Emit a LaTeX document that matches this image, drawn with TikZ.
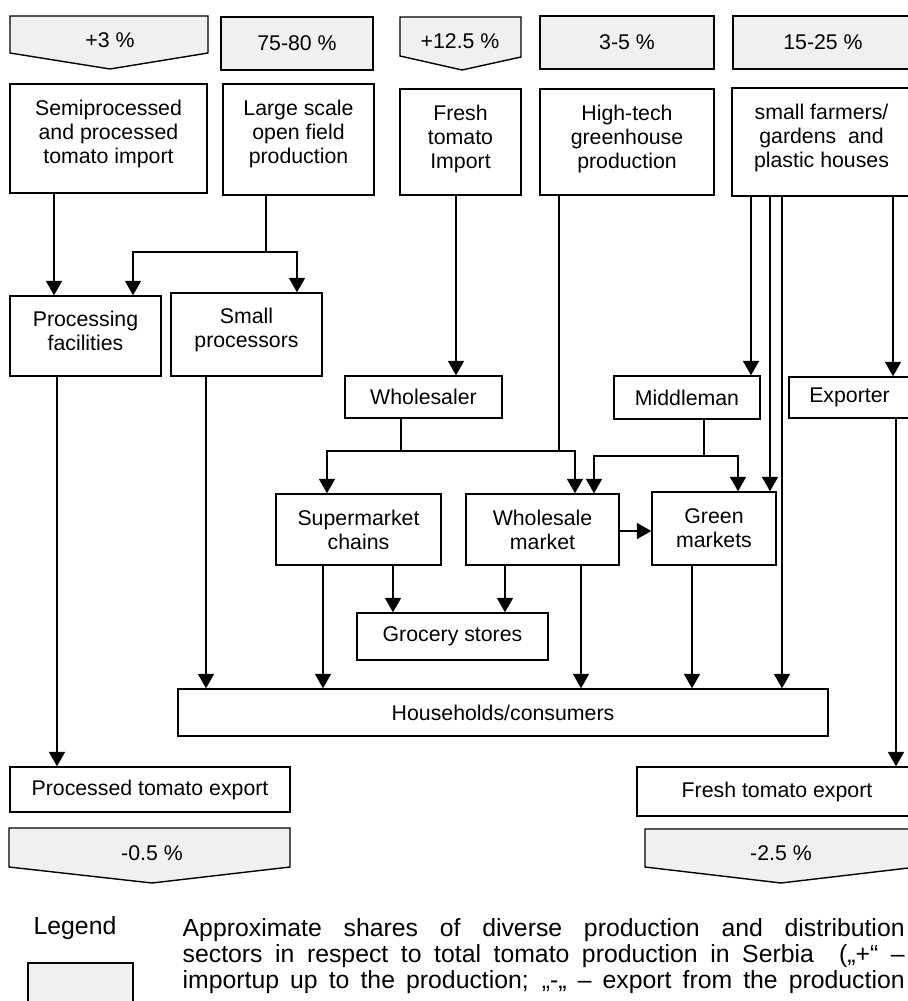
\documentclass[tikz,border=0pt]{standalone}
\usepackage{fontspec}
\setmainfont{Liberation Sans}
\usetikzlibrary{arrows.meta,positioning}

\definecolor{sharegray}{gray}{0.94}
\newcommand{\boxfont}{\fontsize{10.65}{12}\selectfont}
\newcommand{\legfont}{\fontsize{12.4}{13}\selectfont}

\begin{document}
\begin{tikzpicture}[x=0.5pt, y=-0.5pt, line width=0.7pt,
    >={Triangle[length=7.2pt,width=8pt]},
    box/.style={draw, fill=white, inner sep=0pt, align=center, font=\boxfont},
    txt/.style={inner sep=0pt, align=center, font=\boxfont},
    share/.style={draw, fill=sharegray},
    flow/.style={->}]

    \useasboundingbox (0,0) rectangle (907,1001);

    % Shares on top
    \draw[share] (10,16) -- (208,16) -- (208,53) -- (110,69) -- (10,53) -- cycle;
    \node[txt] (impproc) at (110,40) {+3 \%};
    \node[box, fill=sharegray, minimum width=76pt, minimum height=26.5pt] (shlarge) at (297,43.5) {75-80 \%};
    \draw[share] (400,17) -- (521,17) -- (521,57) -- (462,70) -- (400,56) -- cycle;
    \node[txt] (impfresh) at (460,41) {+12.5 \%};
    \node[box, fill=sharegray, minimum width=87pt, minimum height=26.5pt] (shtech) at (627,42.5) {3-5 \%};
    \node[box, fill=sharegray, minimum width=90pt, minimum height=26.5pt] (shsmall) at (823,42.5) {15-25 \%};

    % Sources
    \node[box, minimum width=98.5pt, minimum height=54.5pt] (semi) at (108.5,138.5) {};
    \node[txt, below=8pt of semi.north] (semilbl) {Semiprocessed\\and processed\\tomato import};
    \node[box, minimum width=75.5pt, minimum height=55.5pt] (large) at (298.5,139.5) {};
    \node[txt, below=8pt of large.north] (largelbl) {Large scale\\open field\\production};
    \node[box, minimum width=60.5pt, minimum height=53pt] (freshimp) at (460.5,142) {};
    \node[txt, below=8pt of freshimp.north] (freshimplbl) {Fresh\\tomato\\Import};
    \node[box, minimum width=87pt, minimum height=53pt] (hightech) at (627,142) {};
    \node[txt, below=8pt of hightech.north] (hightechlbl) {High-tech\\greenhouse\\production};
    \node[box, minimum width=89.5pt, minimum height=54pt] (small) at (821.5,142) {};
    \node[txt, below=8pt of small.north] (smalllbl) {small farmers/\\gardens\ \ and\\plastic houses};

    % Processors and traders
    \node[box, minimum width=75.5pt, minimum height=40pt] (proc) at (85.5,336) {};
    \node[txt, below=7.5pt of proc.north] (proclbl) {Processing\\facilities};
    \node[box, minimum width=75.5pt, minimum height=41.5pt] (smallproc) at (246.5,334.5) {};
    \node[txt, below=7.5pt of smallproc.north] (smallproclbl) {Small\\processors};
    \node[box, minimum width=78.5pt, minimum height=21pt] (whsaler) at (423.5,397) {Wholesaler};
    \node[box, minimum width=73pt, minimum height=21.5pt] (middle) at (687,397.5) {Middleman};
    \node[box, minimum width=60.5pt, minimum height=20.5pt] (exporter) at (849.5,397.5) {Exporter};

    % Markets
    \node[box, minimum width=82.5pt, minimum height=35.5pt] (super) at (358.5,529.5) {Supermarket\\chains};
    \node[box, minimum width=76.5pt, minimum height=35.5pt] (whmarket) at (542.5,529.5) {Wholesale\\market};
    \node[box, minimum width=62pt, minimum height=36.5pt] (green) at (714,528.5) {Green\\markets};
    \node[box, minimum width=95.5pt, minimum height=23.5pt] (grocery) at (452.5,636.5) {Grocery stores};
    \node[box, minimum width=325pt, minimum height=23.5pt] (house) at (503,712.5) {Households/consumers};

    % Exports
    \node[box, minimum width=140pt, minimum height=22.5pt] (procexp) at (150,789.5) {Processed tomato export};
    \node[box, minimum width=140pt, minimum height=24.5pt] (freshexp) at (777,791.5) {Fresh tomato export};
    \draw[share] (9,828) -- (290,828) -- (290,867) -- (152,883) -- (9,867) -- cycle;
    \node[txt] (expproc) at (152,853) {-0.5 \%};
    \draw[share] (645,829) -- (917,829) -- (917,867) -- (781,883) -- (645,867) -- cycle;
    \node[txt] (expfresh) at (781,853) {-2.5 \%};

    % Flows: processing
    \draw[flow] (semi.south -| 54,0) -- (proc.north -| 54,0);
    \coordinate (jlarge) at (266,252);
    \draw (large.south -| jlarge) -- (jlarge);
    \draw[flow] (jlarge) -| (proc.north -| 133,0);
    \draw[flow] (jlarge) -| (smallproc.north -| 297,0);
    \draw[flow] (proc.south -| 57,0) -- (procexp.north -| 57,0);
    \draw[flow] (smallproc.south -| 206,0) -- (house.north -| 206,0);

    % Flows: fresh tomato
    \draw[flow] (freshimp.south -| 456,0) -- (whsaler.north -| 456,0);
    \coordinate (jwhs) at (401,451);
    \coordinate (jtech) at (559,451);
    \draw (whsaler.south -| jwhs) -- (jwhs);
    \draw (hightech.south -| jtech) -- (jtech);
    \draw[flow] (jwhs) -| (super.north -| 327,0);
    \draw[flow] (jwhs) -| (whmarket.north -| 575,0);
    \coordinate (jmid) at (704,456);
    \draw (middle.south -| jmid) -- (jmid);
    \draw[flow] (jmid) -| (whmarket.north -| 594,0);
    \draw[flow] (jmid) -| (green.north -| 738,0);
    \draw[flow] (small.south -| 751,0) -- (middle.north -| 751,0);
    \draw[flow] (small.south -| 770,0) -- (green.north -| 770,0);
    \draw[flow] (small.south -| 782,0) -- (house.north -| 782,0);
    \draw[flow] (small.south -| 893,0) -- (exporter.north -| 893,0);
    \draw[flow] (exporter.south -| 896,0) -- (freshexp.north -| 896,0);

    % Flows: retail
    \draw[flow] (whmarket.east |- 0,531) -- (green.west |- 0,531);
    \draw[flow] (super.south -| 393,0) -- (grocery.north -| 393,0);
    \draw[flow] (whmarket.south -| 505,0) -- (grocery.north -| 505,0);
    \draw[flow] (super.south -| 323,0) -- (house.north -| 323,0);
    \draw[flow] (whmarket.south -| 581,0) -- (house.north -| 581,0);
    \draw[flow] (green.south -| 692,0) -- (house.north -| 692,0);

    % Legend
    \node[inner sep=0pt, font=\legfont] (legend) at (75,928) {Legend};
    \draw[share] (28,963) rectangle (133,1012);
    \node[inner sep=0pt, anchor=north west, align=left, font=\legfont] (legtext) at (182,918)
        {\makebox[361pt][s]{Approximate shares of diverse production and distribution}\\
         \makebox[361pt][s]{sectors in respect to total tomato production in Serbia\ \ („+“ –}\\
         \makebox[361pt][s]{importup up to the production; „-„ – export from the production}};

\end{tikzpicture}
\end{document}
